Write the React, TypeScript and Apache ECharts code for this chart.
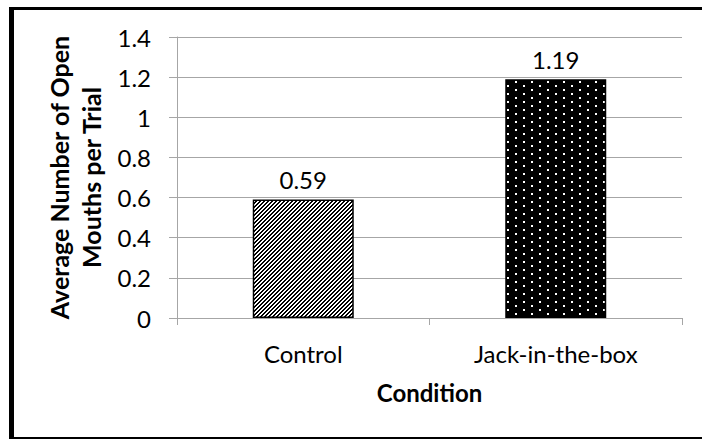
import React, { useEffect, useRef } from 'react';
import * as echarts from 'echarts';

const categories = ['Control', 'Jack-in-the-box'];
const values = [0.59, 1.19];
const yMin = 0;
const yMax = 1.4;
const yInterval = 0.2;
const yAxisTitle = ['Average Number of Open', 'Mouths per Trial'];
const xAxisTitle = 'Condition';

const FONT = 'Lato, "Open Sans", sans-serif';

function makeHatch(): HTMLCanvasElement {
  const n = 8;
  const c = document.createElement('canvas');
  c.width = n;
  c.height = n;
  const ctx = c.getContext('2d')!;
  ctx.fillStyle = '#ffffff';
  ctx.fillRect(0, 0, n, n);
  ctx.fillStyle = '#000000';
  for (let x = 0; x < n; x++) {
    for (let y = 0; y < n; y++) {
      if ((x + y) % 4 < 2) ctx.fillRect(x, y, 1, 1);
    }
  }
  return c;
}

function makeDots(): HTMLCanvasElement {
  const c = document.createElement('canvas');
  c.width = 16;
  c.height = 8;
  const ctx = c.getContext('2d')!;
  ctx.fillStyle = '#000000';
  ctx.fillRect(0, 0, 16, 8);
  ctx.fillStyle = '#ffffff';
  ctx.fillRect(3, 1, 2, 2);
  ctx.fillRect(11, 5, 2, 2);
  return c;
}

export default function App() {
  const ref = useRef<HTMLDivElement>(null);
  useEffect(() => {
    if (!ref.current) return;
    const chart = echarts.init(ref.current, undefined, { renderer: 'svg' });
    const fills = [
      { image: makeHatch(), repeat: 'repeat' },
      { image: makeDots(), repeat: 'repeat' },
    ];
    const gray = '#a6a6a6';
    chart.setOption({
      animation: false,
      backgroundColor: '#ffffff',
      textStyle: { fontFamily: FONT },
      grid: { left: 177, right: 20, top: 37, bottom: 121, containLabel: false },
      xAxis: {
        type: 'category',
        data: categories,
        name: xAxisTitle,
        nameLocation: 'middle',
        nameGap: 62,
        nameTextStyle: { fontFamily: FONT, fontSize: 24, fontWeight: 'bold', color: '#000' },
        axisLine: { lineStyle: { color: gray, width: 1 } },
        axisTick: { show: true, length: 7, lineStyle: { color: gray } },
        axisLabel: { fontFamily: FONT, fontSize: 24, color: '#000', margin: 23 },
        splitLine: { show: false },
      },
      yAxis: {
        type: 'value',
        min: yMin,
        max: yMax,
        interval: yInterval,
        name: yAxisTitle.join('\n'),
        nameLocation: 'middle',
        nameRotate: 90,
        nameGap: 66,
        nameTextStyle: {
          fontFamily: FONT,
          fontSize: 25,
          fontWeight: 'bold',
          color: '#000',
          lineHeight: 32,
          align: 'center',
        },
        axisLine: { show: true, lineStyle: { color: gray, width: 1 } },
        axisTick: { show: true, length: 8, lineStyle: { color: gray } },
        axisLabel: {
          fontFamily: FONT,
          fontSize: 24,
          color: '#000',
          margin: 26,
          formatter: (v: number) => String(Math.round(v * 10) / 10),
        },
        splitLine: { show: true, lineStyle: { color: gray, width: 1 } },
      },
      series: [
        {
          type: 'bar',
          data: values.map((v, i) => ({
            value: v,
            itemStyle: { color: fills[i] as any, borderColor: '#000', borderWidth: 1.5 },
          })),
          barWidth: '40%',
          label: {
            show: true,
            position: 'top',
            distance: 8,
            fontFamily: FONT,
            fontSize: 24,
            color: '#000',
            formatter: (p: any) => String(p.value),
          },
        },
      ],
      graphic: [
        { type: 'rect', shape: { x: 9, y: 7, width: 5, height: 432 }, style: { fill: '#000' } },
        { type: 'rect', shape: { x: 9, y: 7, width: 693, height: 3 }, style: { fill: '#000' } },
        { type: 'rect', shape: { x: 9, y: 437, width: 693, height: 2 }, style: { fill: '#000' } },
      ],
    });
    return () => chart.dispose();
  }, []);
  return (
    <div
      ref={ref}
      style={{ position: 'absolute', left: 0, top: 0, width: 702, height: 439 }}
    />
  );
}
